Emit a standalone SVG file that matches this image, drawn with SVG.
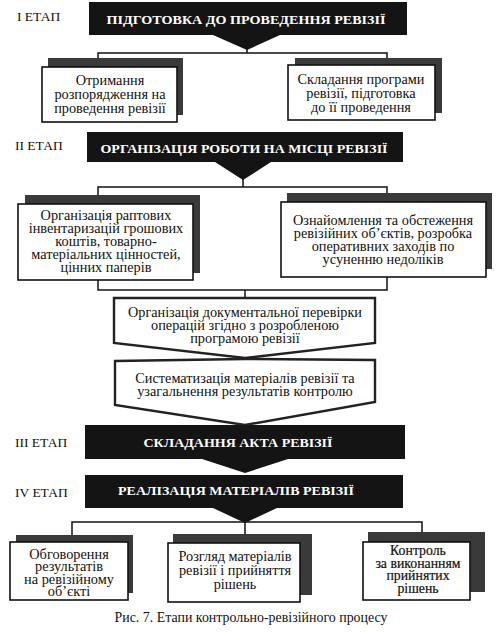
<svg xmlns="http://www.w3.org/2000/svg" width="501" height="635" viewBox="0 0 501 635">
<style>
text{font-family:"Liberation Serif","Times New Roman",serif;fill:#111}
.t{font-size:14.3px;text-anchor:middle}
.b{stroke:#111;stroke-width:0.2;font-size:13.8px}
.h{font-size:13.5px;font-weight:bold;fill:#fff;text-anchor:middle}
.st{font-size:13.5px}
.blk{fill:#141414}
.sh{fill:#3a3a3a}
.bx{fill:#fff;stroke:#111;stroke-width:1.6}
.pn{fill:#fff;stroke:#222;stroke-width:2.4}
.ln{fill:none;stroke:#111;stroke-width:1.5}
</style>
<rect width="501" height="635" fill="#fff"/>
<g id="connectors">
<path class="ln" d="M247 48V53M98 58V53H387V58"/>
<path class="ln" d="M243 178V187M98 195V187H387V193"/>
<path class="ln" d="M98 280V290H387V277M245 290V298"/>
<path class="ln" d="M245 521V522M72 535V522H422V532M245 522V534"/>
</g>
<g id="stage1-label"><text class="st" x="17" y="21">I ЕТАП</text></g>
<g id="stage2-label"><text class="st" x="15" y="150">II ЕТАП</text></g>
<g id="stage3-label"><text class="st" x="15" y="447">III ЕТАП</text></g>
<g id="stage4-label"><text class="st" x="15" y="497">IV ЕТАП</text></g>
<g id="stage1">
<path class="blk" d="M89 2H407V35H280L247 50L213 35H89Z"/>
<text class="h" x="246" y="24" textLength="279" lengthAdjust="spacingAndGlyphs">ПІДГОТОВКА ДО ПРОВЕДЕННЯ РЕВІЗІЇ</text>
</g>
<g id="n1a">
<rect class="sh" x="48" y="58" width="135" height="57"/>
<rect class="bx" x="42" y="67" width="135" height="55"/>
<text class="t" x="110" y="85">Отримання</text>
<text class="t" x="110" y="99">розпорядження на</text>
<text class="t" x="110" y="113">проведення ревізії</text>
</g>
<g id="n1b">
<rect class="sh" x="295" y="58" width="147" height="55"/>
<rect class="bx" x="288" y="65" width="147" height="55"/>
<text class="t" x="361" y="84">Складання програми</text>
<text class="t" x="361" y="98">ревізії, підготовка</text>
<text class="t" x="361" y="112">до її проведення</text>
</g>
<g id="stage2">
<path class="blk" d="M87 132H403V162H271L243 180L215 162H87Z"/>
<text class="h" x="244" y="153" textLength="287" lengthAdjust="spacingAndGlyphs">ОРГАНІЗАЦІЯ РОБОТИ НА МІСЦІ РЕВІЗІЇ</text>
</g>
<g id="n2a">
<rect class="sh" x="25" y="195" width="175" height="78"/>
<rect class="bx" x="18" y="204" width="175" height="76"/>
<text class="t" x="106" y="220">Організація раптових</text>
<text class="t" x="106" y="233">інвентаризацій грошових</text>
<text class="t" x="106" y="246">коштів, товарно-</text>
<text class="t" x="106" y="259">матеріальних цінностей,</text>
<text class="t" x="106" y="272">цінних паперів</text>
</g>
<g id="n2b">
<rect class="sh" x="287" y="193" width="205" height="76"/>
<rect class="bx" x="281" y="202" width="205" height="75"/>
<text class="t" x="383" y="225">Ознайомлення та обстеження</text>
<text class="t" x="383" y="238">ревізійних об’єктів, розробка</text>
<text class="t" x="383" y="251">оперативних заходів по</text>
<text class="t" x="383" y="264">усуненню недоліків</text>
</g>
<g id="n2c">
<path class="pn" d="M114 298H375V343L245 358L114 343Z"/>
<text class="t" x="245" y="317" textLength="234" lengthAdjust="spacingAndGlyphs">Організація документальної перевірки</text>
<text class="t" x="245" y="330">операцій згідно з розробленою</text>
<text class="t" x="245" y="343">програмою ревізії</text>
</g>
<g id="n2d">
<path class="pn" d="M115 361L245 359L375 360V402L245 425L115 405Z"/>
<text class="t" x="245" y="383">Систематизація матеріалів ревізії та</text>
<text class="t" x="245" y="396">узагальнення результатів контролю</text>
</g>
<g id="stage3">
<path class="blk" d="M85 425H405V459H288L245 473L202 459H85Z"/>
<text class="h" x="238" y="447" textLength="189" lengthAdjust="spacingAndGlyphs">СКЛАДАННЯ АКТА РЕВІЗІЇ</text>
</g>
<g id="stage4">
<path class="blk" d="M85 475H403V508H277L245 523L213 508H85Z"/>
<text class="h" x="236" y="495" textLength="236" lengthAdjust="spacingAndGlyphs">РЕАЛІЗАЦІЯ МАТЕРІАЛІВ РЕВІЗІЇ</text>
</g>
<g id="n4a">
<rect class="sh" x="16" y="535" width="117" height="58"/>
<rect class="bx" x="10" y="542" width="118" height="58"/>
<text class="t" x="69" y="559">Обговорення</text>
<text class="t" x="69" y="571">результатів</text>
<text class="t" x="69" y="584">на ревізійному</text>
<text class="t" x="69" y="596">об’єкті</text>
</g>
<g id="n4b">
<rect class="sh" x="173" y="534" width="139" height="61"/>
<rect class="bx" x="168" y="543" width="132" height="59"/>
<text class="t" x="235" y="561">Розгляд матеріалів</text>
<text class="t" x="235" y="575">ревізії і прийняття</text>
<text class="t" x="235" y="589">рішень</text>
</g>
<g id="n4c">
<rect class="sh" x="368" y="532" width="117" height="60"/>
<rect class="bx" x="363" y="542" width="107" height="58"/>
<text class="t b" x="418" y="555">Контроль</text>
<text class="t b" x="418" y="568">за виконанням</text>
<text class="t b" x="418" y="580">прийнятих</text>
<text class="t b" x="418" y="593">рішень</text>
</g>
<g id="caption">
<text x="251" y="622" style="font-size:14px;text-anchor:middle" textLength="273" lengthAdjust="spacingAndGlyphs">Рис. 7. Етапи контрольно-ревізійного процесу</text>
</g>
</svg>
